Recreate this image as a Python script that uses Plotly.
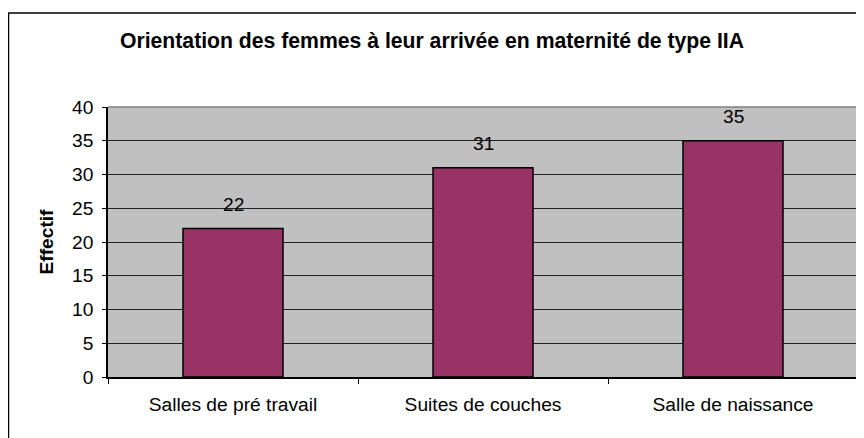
import plotly.graph_objects as go

categories = ["Salles de pré travail", "Suites de couches", "Salle de naissance"]
values = [22, 31, 35]
y_ticks = [0, 5, 10, 15, 20, 25, 30, 35, 40]

FONT = "Liberation Sans, Arial, sans-serif"
FS = 19.2

fig = go.Figure()
fig.add_trace(go.Bar(
    x=categories, y=values,
    marker=dict(color="#993366", line=dict(color="black", width=1.5)),
    width=0.4,
    hoverinfo="x+y",
))

for c, v in zip(categories, values):
    fig.add_annotation(x=c, y=v, text=str(v), showarrow=False,
                       yanchor="middle", yshift=24,
                       font=dict(family=FONT, size=FS, color="black"))

# page has an 8px body margin, so the figure is sized/offset accordingly
W, H = 856, 430
L, R, T, B = 100, 6, 99, 61
pw, ph = W - L - R, H - T - B

# outer chart border (top & left visible, right/bottom beyond canvas)
fig.add_shape(type="rect", xref="paper", yref="paper",
              x0=(0.5 - L) / pw, x1=(W + 20 - L) / pw,
              y0=-(B + 20) / ph, y1=(H - B - 5) / ph,
              line=dict(color="black", width=1.5), fillcolor="rgba(0,0,0,0)", layer="below")
# plot-area top/right gray border
fig.add_shape(type="line", xref="paper", yref="paper", x0=0, x1=1, y0=1, y1=1,
              line=dict(color="#808080", width=1.5))
fig.add_shape(type="line", xref="paper", yref="paper", x0=1, x1=1, y0=0, y1=1,
              line=dict(color="#808080", width=1.5))

fig.update_layout(
    width=W, height=H,
    margin=dict(l=L, r=R, t=T, b=B),
    paper_bgcolor="white",
    plot_bgcolor="#C0C0C0",
    showlegend=False,
    title=dict(text="<b>Orientation des femmes à leur arrivée en maternité de type IIA</b>",
               x=424 / W, xref="container", xanchor="center",
               y=1 - 33 / H, yref="container", yanchor="middle",
               font=dict(family=FONT, size=21.2, color="black")),
    font=dict(family=FONT, size=FS, color="black"),
    bargap=0.6,
)
fig.update_xaxes(
    type="category", showline=True, linecolor="black", linewidth=1.5,
    ticks="outside", tickson="boundaries", ticklen=5, tickcolor="black",
    ticklabelstandoff=9,
    showgrid=False, tickfont=dict(family=FONT, size=FS, color="black"),
)
fig.update_yaxes(
    range=[0, 40], tickvals=y_ticks, ticktext=[str(t) for t in y_ticks],
    showline=True, linecolor="black", linewidth=1.5,
    ticks="outside", ticklen=4, tickcolor="black",
    ticklabelstandoff=5,
    showgrid=True, gridcolor="#222222", gridwidth=1,
    zeroline=False,
    tickfont=dict(family=FONT, size=FS, color="black"),
    title=dict(text="<b>Effectif</b>", font=dict(family=FONT, size=FS, color="black"), standoff=13),
)

fig.write_html("out.html")
